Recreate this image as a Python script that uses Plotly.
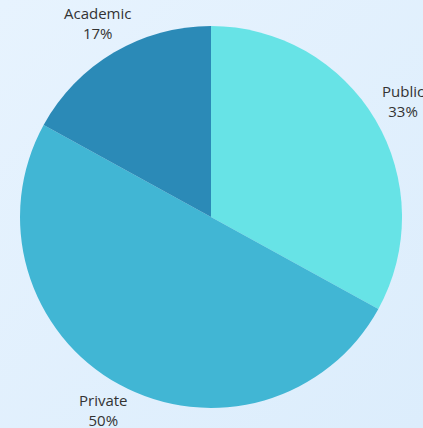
import math
import plotly.graph_objects as go

# Share of funding by sector
sectors = ["Public", "Private", "Academic"]
shares = [33, 50, 17]
slice_colors = ["#67E3E6", "#41B6D4", "#2B8AB7"]

W, H = 423, 428
CX, CY, R = 211, 217, 191      # pie centre and radius in pixels (from top-left)
LABEL_R = 223                  # radius at which the slice labels sit

# soft light-blue backdrop
bg_svg = (
    "data:image/svg+xml;utf8,"
    "<svg xmlns='http://www.w3.org/2000/svg' width='423' height='428'>"
    "<defs><linearGradient id='g' x1='0' y1='0' x2='1' y2='1'>"
    "<stop offset='0' stop-color='%23E7F3FE'/>"
    "<stop offset='1' stop-color='%23DCEDFC'/>"
    "</linearGradient></defs>"
    "<rect width='423' height='428' fill='url(%23g)'/></svg>"
)

fig = go.Figure(
    go.Pie(
        labels=sectors,
        values=shares,
        sort=False,
        direction="clockwise",
        rotation=0,
        marker=dict(colors=slice_colors, line=dict(width=0)),
        textinfo="none",
        showlegend=False,
        hoverinfo="label+percent",
        domain=dict(x=[(CX - R) / W, (CX + R) / W], y=[(H - CY - R) / H, (H - CY + R) / H]),
    )
)

# label each slice along the radial line through its middle
total = sum(shares)
cum = 0
annotations = []
for name, val in zip(sectors, shares):
    mid = (cum + val / 2) / total
    cum += val
    theta = 2 * math.pi * mid          # clockwise from 12 o'clock
    px = CX + LABEL_R * math.sin(theta)
    py = CY - LABEL_R * math.cos(theta)
    annotations.append(
        dict(
            x=px / W, y=1 - py / H, xref="paper", yref="paper",
            text=f"{name}<br>{round(100 * val / total)}%",
            showarrow=False, xanchor="center", yanchor="middle", yshift=2,
            font=dict(family="Open Sans, Noto Sans, sans-serif", size=15, color="#333333"),
        )
    )

fig.update_layout(
    width=W,
    height=H,
    margin=dict(l=0, r=0, t=0, b=0),
    paper_bgcolor="#E1F0FD",
    plot_bgcolor="rgba(0,0,0,0)",
    annotations=annotations,
    images=[
        dict(
            source=bg_svg,
            xref="paper", yref="paper",
            x=0, y=1, sizex=1, sizey=1,
            xanchor="left", yanchor="top",
            sizing="stretch", layer="below",
        )
    ],
)

fig.write_html("out.html")
